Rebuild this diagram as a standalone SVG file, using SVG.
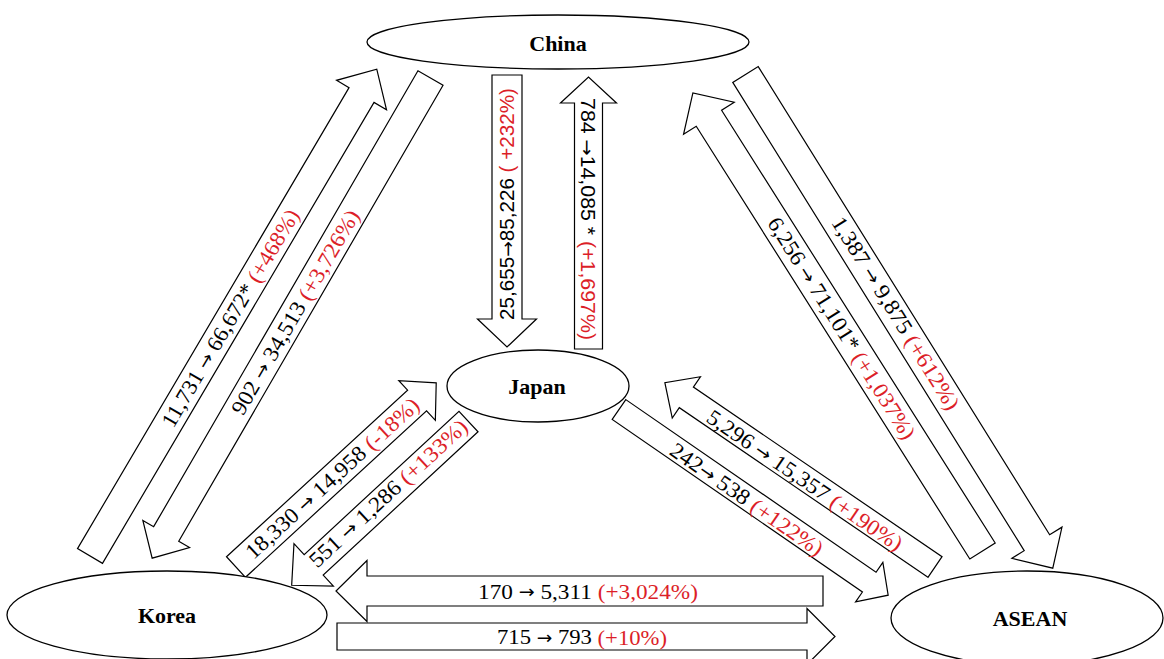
<svg xmlns="http://www.w3.org/2000/svg" width="1164" height="659" viewBox="0 0 1164 659">
<style>
.node{fill:#fff;stroke:#000;stroke-width:1.3}
.lbl{font-family:"Liberation Serif","Times New Roman",serif;font-weight:bold;font-size:22px;fill:#000;text-anchor:middle;dominant-baseline:central}
.arr{fill:#fff;stroke:#000;stroke-width:1.2;stroke-linejoin:miter}
.t{font-family:"Liberation Serif","Times New Roman",serif;font-size:22px;fill:#000;text-anchor:middle;dominant-baseline:central}
.s{font-family:"Liberation Sans Narrow","Liberation Sans",Arial,sans-serif;font-size:20px;fill:#000;text-anchor:middle;dominant-baseline:central}
.a{font-family:"DejaVu Sans",sans-serif;font-size:18px}
.r{fill:#dc1e28}
</style>
<rect width="1164" height="659" fill="#fff"/>
<g id="connectors">
  <polygon class="arr" transform="translate(90,556) rotate(-59.5)" points="0,-14.5 535,-14.5 535,-29 565,0 535,29 535,14.5 0,14.5"/>
  <polygon class="arr" transform="translate(430.5,78) rotate(120.1)" points="0,-14.5 527,-14.5 527,-27 555,0 527,27 527,14.5 0,14.5"/>
  <polygon class="arr" transform="translate(507,75) rotate(90)" points="0,-15 244,-15 244,-29.5 272,0 244,29.5 244,15 0,15"/>
  <polygon class="arr" transform="translate(588.5,349) rotate(-90)" points="0,-14 246,-14 246,-28 272,0 246,28 246,14 0,14"/>
  <polygon class="arr" transform="translate(745.5,74.5) rotate(58.1)" points="0,-15 551.5,-15 551.5,-29.5 581.5,0 551.5,29.5 551.5,15 0,15"/>
  <polygon class="arr" transform="translate(982.5,551) rotate(-122.3)" points="0,-15 512,-15 512,-30 542,0 512,30 512,15 0,15"/>
  <polygon class="arr" transform="translate(236,567) rotate(-42.6)" points="0,-14 246,-14 246,-27 272,0 246,27 246,14 0,14"/>
  <polygon class="arr" transform="translate(468.5,421.5) rotate(137.2)" points="0,-14 211,-14 211,-29 241,0 211,29 211,14 0,14"/>
  <polygon class="arr" transform="translate(619,409.5) rotate(34.6)" points="0,-12 304,-12 304,-24 327,0 304,24 304,12 0,12"/>
  <polygon class="arr" transform="translate(935,567) rotate(-145.7)" points="0,-12.5 301,-12.5 301,-25 327,0 301,25 301,12.5 0,12.5"/>
  <polygon class="arr" transform="translate(823,591) rotate(180)" points="0,-15 456,-15 456,-30.5 487,0 456,30.5 456,15 0,15"/>
  <polygon class="arr" transform="translate(337,636.5)" points="0,-13.5 470,-13.5 470,-28 498,0 470,28 470,13.5 0,13.5"/>

  <text class="t" transform="translate(230,318) rotate(-59.5)" textLength="249" lengthAdjust="spacingAndGlyphs">11,731 <tspan class="a">→</tspan> 66,672* <tspan class="r">(+468%)</tspan></text>
  <text class="t" transform="translate(295,312) rotate(-59.9)" textLength="233" lengthAdjust="spacingAndGlyphs">902 <tspan class="a">→</tspan> 34,513 <tspan class="r">(+3,726%)</tspan></text>
  <text class="s" transform="translate(507,204) rotate(-90)" textLength="232" lengthAdjust="spacingAndGlyphs">25,655<tspan class="a">→</tspan>85,226 <tspan class="r">( +232%)</tspan></text>
  <text class="s" transform="translate(588,219) rotate(90)" textLength="242" lengthAdjust="spacingAndGlyphs">784 <tspan class="a">→</tspan>14,085 * <tspan class="r">(+1,697%)</tspan></text>
  <text class="t" transform="translate(896,313) rotate(58.1)" textLength="223" lengthAdjust="spacingAndGlyphs">1,387 <tspan class="a">→</tspan> 9,875 <tspan class="r">(+612%)</tspan></text>
  <text class="t" transform="translate(842,328) rotate(57.7)" textLength="258" lengthAdjust="spacingAndGlyphs">6,256 <tspan class="a">→</tspan> 71,101* <tspan class="r">(+1,037%)</tspan></text>
  <text class="t" transform="translate(332,478) rotate(-42.6)" textLength="227" lengthAdjust="spacingAndGlyphs">18,330 <tspan class="a">→</tspan> 14,958 <tspan class="r">(-18%)</tspan></text>
  <text class="t" transform="translate(388,493) rotate(-42.8)" textLength="207" lengthAdjust="spacingAndGlyphs">551 <tspan class="a">→</tspan> 1,286 <tspan class="r">(+133%)</tspan></text>
  <text class="t" transform="translate(747,499) rotate(34.6)" textLength="181" lengthAdjust="spacingAndGlyphs">242<tspan class="a">→</tspan> 538 <tspan class="r">(+122%)</tspan></text>
  <text class="t" transform="translate(805,480) rotate(34.3)" textLength="232" lengthAdjust="spacingAndGlyphs">5,296 <tspan class="a">→</tspan> 15,357 <tspan class="r">(+190%)</tspan></text>
  <text class="t" x="588" y="591" textLength="220" lengthAdjust="spacingAndGlyphs">170  <tspan class="a">→</tspan> 5,311 <tspan class="r">(+3,024%)</tspan></text>
  <text class="t" x="582" y="636.5" textLength="170" lengthAdjust="spacingAndGlyphs">715 <tspan class="a">→</tspan> 793 <tspan class="r">(+10%)</tspan></text>
</g>
<g id="china">
  <ellipse class="node" cx="558" cy="42" rx="191" ry="27"/>
  <text class="lbl" x="558" y="43">China</text>
</g>
<g id="japan">
  <ellipse class="node" cx="538" cy="386" rx="91" ry="36"/>
  <text class="lbl" x="537" y="386">Japan</text>
</g>
<g id="korea">
  <ellipse class="node" cx="167" cy="615" rx="160" ry="44"/>
  <text class="lbl" x="167" y="615">Korea</text>
</g>
<g id="asean">
  <ellipse class="node" cx="1027" cy="618" rx="136" ry="47"/>
  <text class="lbl" x="1030" y="618">ASEAN</text>
</g>
</svg>
